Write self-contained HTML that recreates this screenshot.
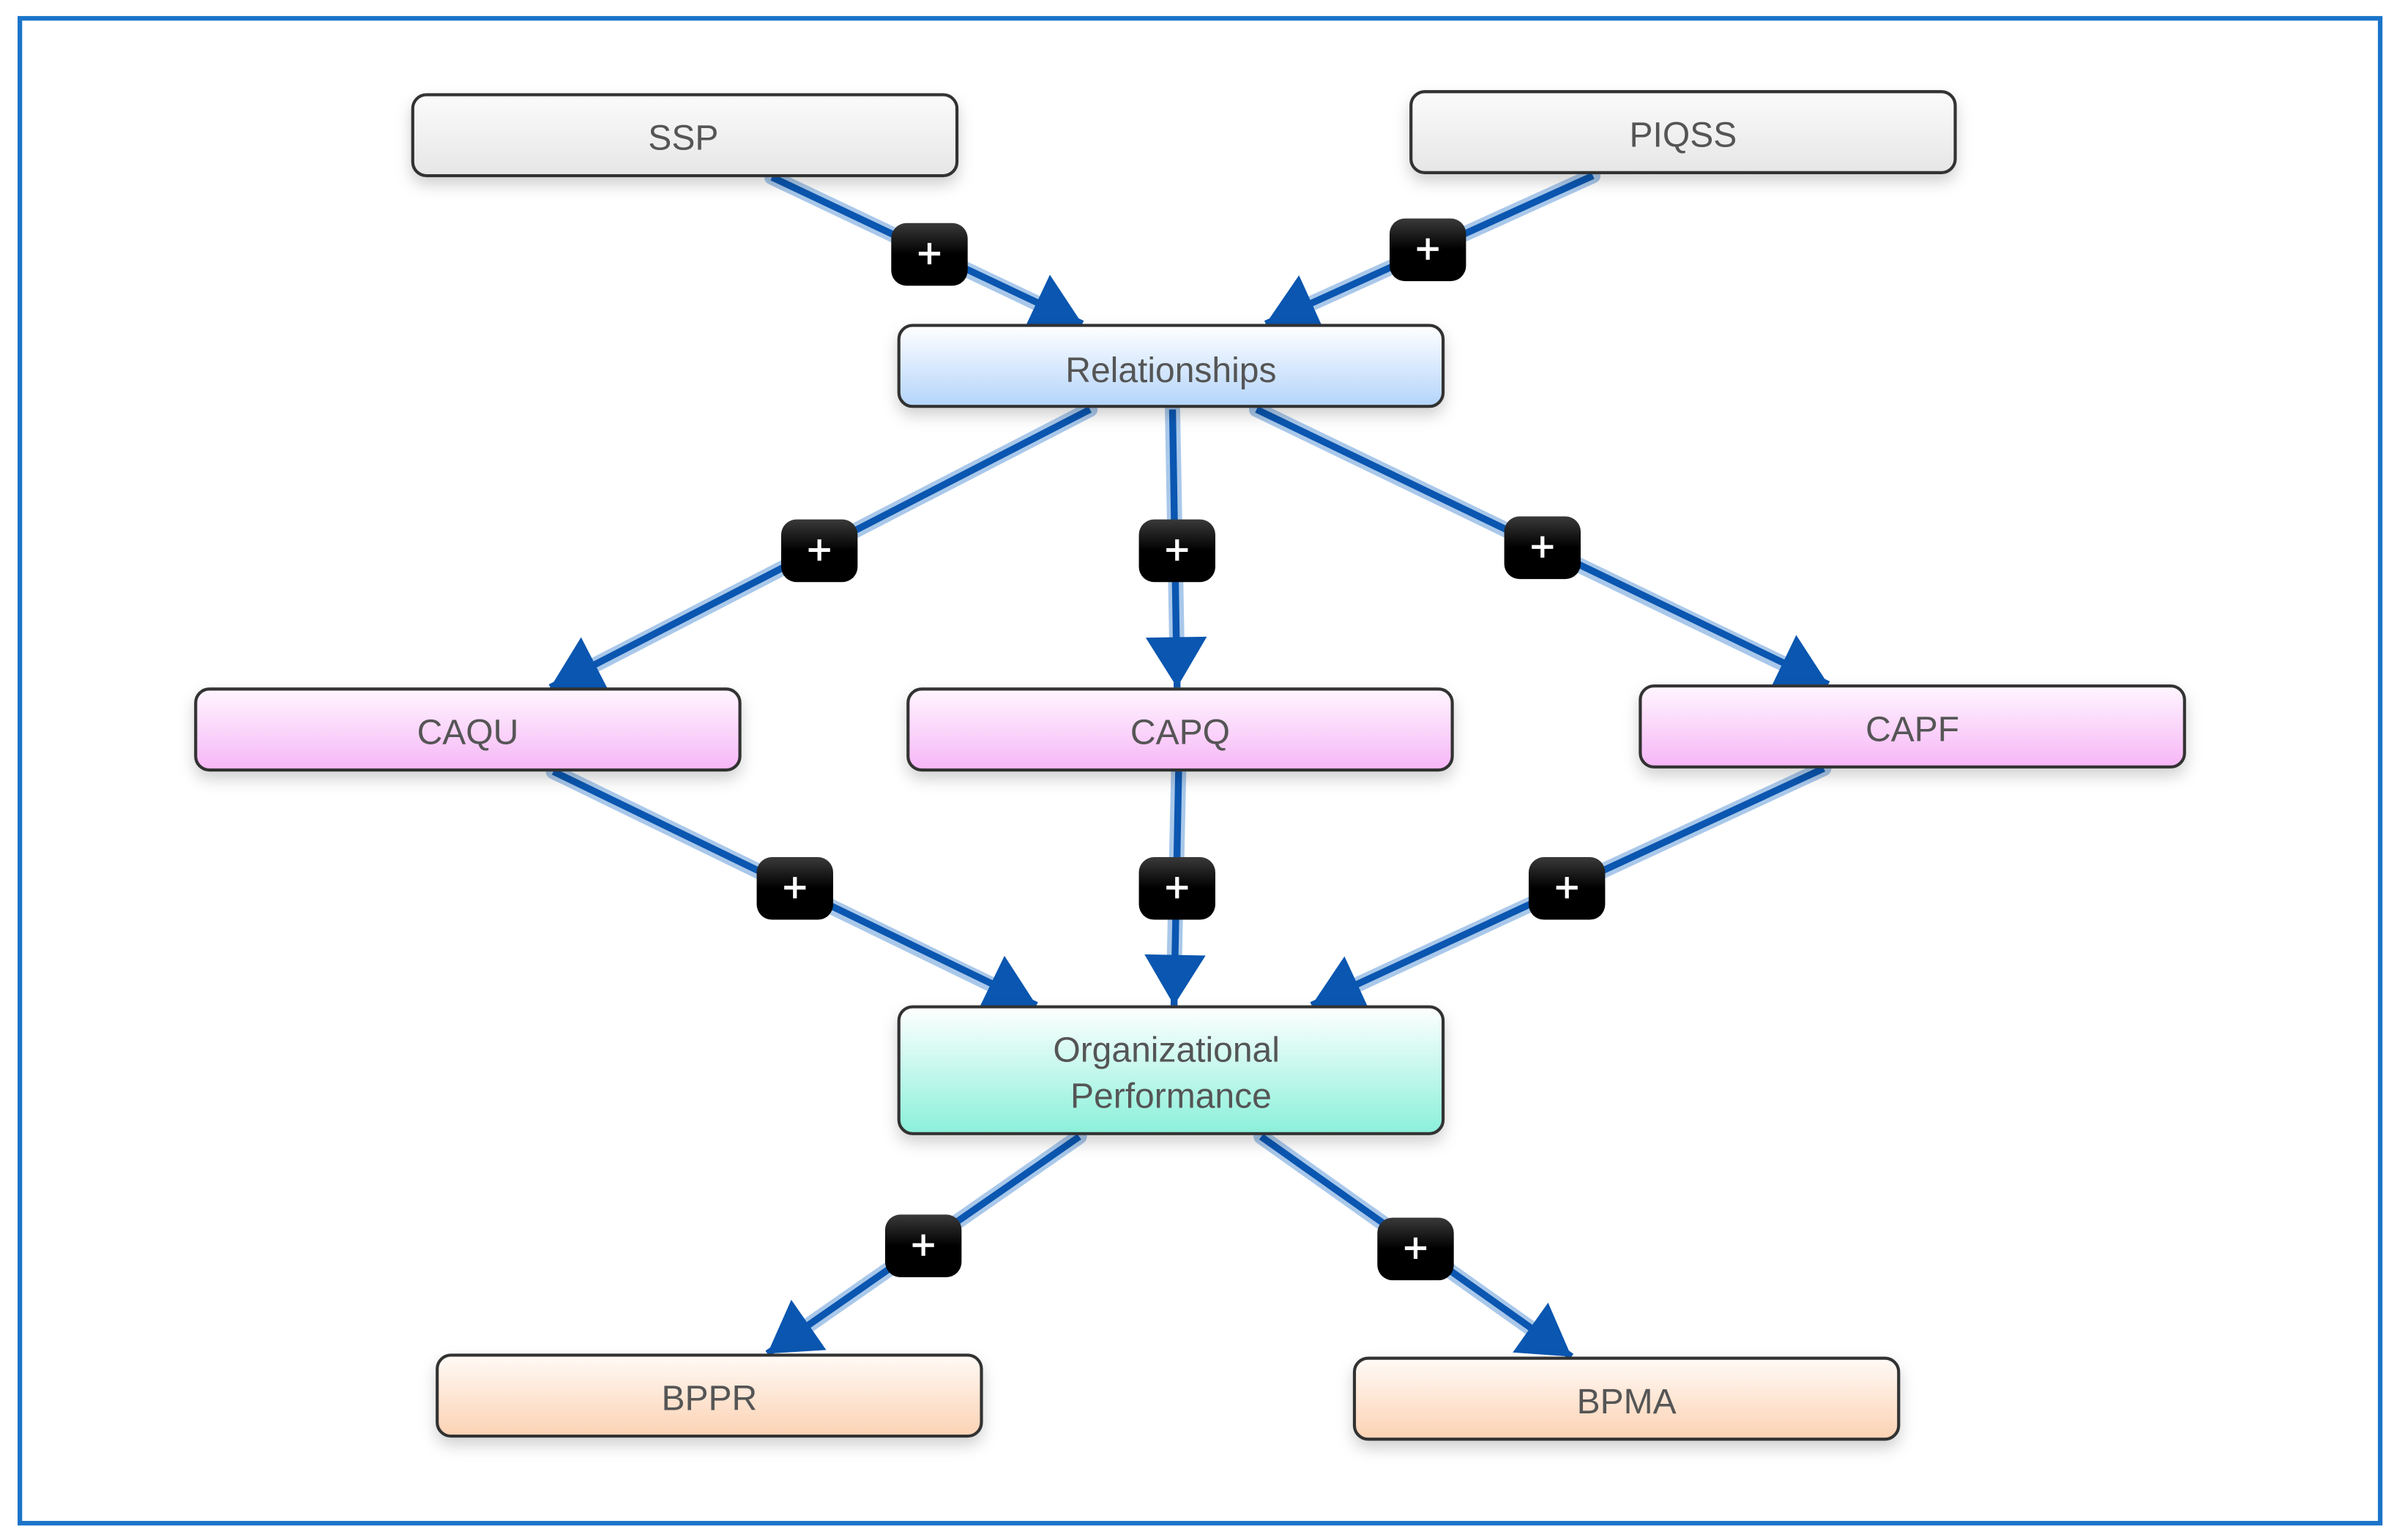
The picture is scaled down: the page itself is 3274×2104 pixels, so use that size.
<!DOCTYPE html>
<html><head><meta charset="utf-8"><style>
html,body{margin:0;padding:0;background:#fff}
svg{display:block}
text{font-family:"Liberation Sans","DejaVu Sans",sans-serif;fill:#555;font-size:23px;text-anchor:middle}
</style></head><body>
<svg width="3274" height="2104" viewBox="0 0 1568 1008" preserveAspectRatio="none" xmlns="http://www.w3.org/2000/svg">
<defs>
<linearGradient id="gg" x1="0" y1="0" x2="0" y2="1"><stop offset="0" stop-color="#fbfbfb"/><stop offset="1" stop-color="#e6e6e6"/></linearGradient>
<linearGradient id="gb" x1="0" y1="0" x2="0" y2="1"><stop offset="0" stop-color="#ffffff"/><stop offset="1" stop-color="#b3d4fb"/></linearGradient>
<linearGradient id="gp" x1="0" y1="0" x2="0" y2="1"><stop offset="0" stop-color="#fff6ff"/><stop offset="1" stop-color="#f6b6f6"/></linearGradient>
<linearGradient id="gt" x1="0" y1="0" x2="0" y2="1"><stop offset="0" stop-color="#ffffff"/><stop offset="1" stop-color="#8af0da"/></linearGradient>
<linearGradient id="go" x1="0" y1="0" x2="0" y2="1"><stop offset="0" stop-color="#fffaf6"/><stop offset="1" stop-color="#fcd2b3"/></linearGradient>
<linearGradient id="gk" x1="0" y1="0" x2="0" y2="1"><stop offset="0" stop-color="#3a3a3a"/><stop offset="0.5" stop-color="#000"/><stop offset="1" stop-color="#000"/></linearGradient>
<filter id="sh" x="-10%" y="-30%" width="120%" height="180%"><feDropShadow dx="0" dy="5" stdDeviation="5" flood-color="#000" flood-opacity="0.18"/></filter>
<marker id="ar" markerUnits="userSpaceOnUse" markerWidth="40" markerHeight="40" viewBox="0 0 28 34" refX="28" refY="17" orient="auto"><path d="M0,0 L28,17 L0,34 z" fill="#0a56b0"/></marker>
</defs>
<rect x="13" y="12" width="1544" height="985" fill="#fff" stroke="#1b74c9" stroke-width="3"/>

<g stroke="#a9c8ea" stroke-width="10" fill="none" stroke-linecap="round">
<line x1="505" y1="116" x2="690" y2="204"/>
<line x1="1042" y1="115" x2="846" y2="204"/>
<line x1="713" y1="268" x2="378" y2="441"/>
<line x1="767" y1="268" x2="770" y2="430"/>
<line x1="822" y1="268" x2="1178" y2="440"/>
<line x1="362" y1="505" x2="660" y2="650"/>
<line x1="771" y1="505" x2="768" y2="638"/>
<line x1="1193" y1="503" x2="876" y2="650"/>
<line x1="706" y1="744" x2="518" y2="875"/>
<line x1="825" y1="744" x2="1012" y2="877"/>
</g>
<g stroke="#0a56b0" stroke-width="4.5" fill="none" marker-end="url(#ar)">
<line x1="505" y1="116" x2="708" y2="212"/>
<line x1="1042" y1="115" x2="828" y2="212"/>
<line x1="713" y1="268" x2="360" y2="450"/>
<line x1="767" y1="268" x2="770" y2="450"/>
<line x1="822" y1="268" x2="1196" y2="448"/>
<line x1="362" y1="505" x2="678" y2="658"/>
<line x1="771" y1="505" x2="768" y2="658"/>
<line x1="1193" y1="503" x2="858" y2="658"/>
<line x1="706" y1="744" x2="502" y2="886"/>
<line x1="825" y1="744" x2="1028" y2="888"/>
</g>

<g stroke="#333" stroke-width="2" filter="url(#sh)">
<rect x="270" y="62" width="356" height="53" rx="9" fill="url(#gg)"/>
<rect x="923" y="60" width="356" height="53" rx="9" fill="url(#gg)"/>
<rect x="588" y="213" width="356" height="53" rx="9" fill="url(#gb)"/>
<rect x="128" y="451" width="356" height="53" rx="9" fill="url(#gp)"/>
<rect x="594" y="451" width="356" height="53" rx="9" fill="url(#gp)"/>
<rect x="1073" y="449" width="356" height="53" rx="9" fill="url(#gp)"/>
<rect x="588" y="659" width="356" height="83" rx="9" fill="url(#gt)"/>
<rect x="286" y="887" width="356" height="53" rx="9" fill="url(#go)"/>
<rect x="886" y="889" width="356" height="53" rx="9" fill="url(#go)"/>
</g>
<text x="447" y="98">SSP</text>
<text x="1101" y="96">PIQSS</text>
<text x="766" y="250">Relationships</text>
<text x="306" y="487">CAQU</text>
<text x="772" y="487">CAPQ</text>
<text x="1251" y="485">CAPF</text>
<text x="763" y="695">Organizational</text>
<text x="766" y="725">Performance</text>
<text x="464" y="923">BPPR</text>
<text x="1064" y="925">BPMA</text>

<g id="badges">
<g transform="translate(608,166)"><rect x="-25" y="-20" width="50" height="41" rx="10" fill="url(#gk)"/><path d="M-7,0H7M0,-7V7" stroke="#fff" stroke-width="2.5"/></g>
<g transform="translate(934,163)"><rect x="-25" y="-20" width="50" height="41" rx="10" fill="url(#gk)"/><path d="M-7,0H7M0,-7V7" stroke="#fff" stroke-width="2.5"/></g>
<g transform="translate(536,360)"><rect x="-25" y="-20" width="50" height="41" rx="10" fill="url(#gk)"/><path d="M-7,0H7M0,-7V7" stroke="#fff" stroke-width="2.5"/></g>
<g transform="translate(770,360)"><rect x="-25" y="-20" width="50" height="41" rx="10" fill="url(#gk)"/><path d="M-7,0H7M0,-7V7" stroke="#fff" stroke-width="2.5"/></g>
<g transform="translate(1009,358)"><rect x="-25" y="-20" width="50" height="41" rx="10" fill="url(#gk)"/><path d="M-7,0H7M0,-7V7" stroke="#fff" stroke-width="2.5"/></g>
<g transform="translate(520,581)"><rect x="-25" y="-20" width="50" height="41" rx="10" fill="url(#gk)"/><path d="M-7,0H7M0,-7V7" stroke="#fff" stroke-width="2.5"/></g>
<g transform="translate(770,581)"><rect x="-25" y="-20" width="50" height="41" rx="10" fill="url(#gk)"/><path d="M-7,0H7M0,-7V7" stroke="#fff" stroke-width="2.5"/></g>
<g transform="translate(1025,581)"><rect x="-25" y="-20" width="50" height="41" rx="10" fill="url(#gk)"/><path d="M-7,0H7M0,-7V7" stroke="#fff" stroke-width="2.5"/></g>
<g transform="translate(604,815)"><rect x="-25" y="-20" width="50" height="41" rx="10" fill="url(#gk)"/><path d="M-7,0H7M0,-7V7" stroke="#fff" stroke-width="2.5"/></g>
<g transform="translate(926,817)"><rect x="-25" y="-20" width="50" height="41" rx="10" fill="url(#gk)"/><path d="M-7,0H7M0,-7V7" stroke="#fff" stroke-width="2.5"/></g>
</g>
</svg>
</body></html>
